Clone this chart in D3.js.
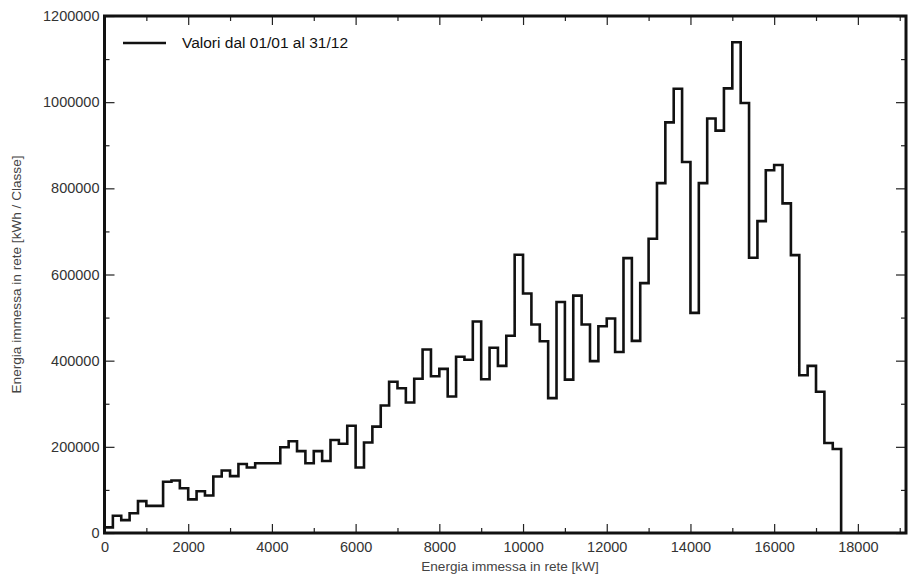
<!DOCTYPE html>
<html>
<head>
<meta charset="utf-8">
<script src="https://cdn.jsdelivr.net/npm/d3@7/dist/d3.min.js"></script>
<style>
  html, body { margin: 0; padding: 0; background: #fff; }
  svg { display: block; }
  text { font-family: "Liberation Sans", Arial, sans-serif; }
</style>
</head>
<body>
<svg id="chart" width="908" height="579"></svg>
<script>
// ---- data ----
const binWidth = 200; // kW per class
const binStartKW = d3.range(0, 17600, binWidth);
const energyValues = [
  13000, 40000, 30000, 46000, 74000, 63000, 63000, 119000, 122000, 104000,
  78000, 97000, 87000, 131000, 145000, 132000, 160000, 152000, 162000, 162000,
  162000, 199000, 213000, 190000, 162000, 190000, 167000, 216000, 207000, 249000,
  152000, 210000, 247000, 296000, 351000, 336000, 303000, 358000, 426000, 364000,
  381000, 317000, 409000, 402000, 491000, 357000, 430000, 388000, 458000, 646000,
  556000, 484000, 445000, 313000, 536000, 356000, 551000, 484000, 399000, 480000,
  498000, 420000, 638000, 446000, 580000, 683000, 812000, 953000, 1031000, 861000,
  511000, 812000, 962000, 934000, 1032000, 1139000, 998000, 639000, 724000, 842000,
  854000, 765000, 645000, 366000, 388000, 328000, 209000, 195000
];
const xTickValues = [0, 2000, 4000, 6000, 8000, 10000, 12000, 14000, 16000, 18000];
const yTickValues = [0, 200000, 400000, 600000, 800000, 1000000, 1200000];
const seriesLabel = "Valori dal 01/01 al 31/12";
const xTitle = "Energia immessa in rete [kW]";
const yTitle = "Energia immessa in rete [kWh / Classe]";

(function () {
// ---- layout ----
const svg = d3.select("#chart");
const L = 104.5, R = 906, T = 16, B = 533;
const x = d3.scaleLinear().domain([0, 19150]).range([L, R]);
const y = d3.scaleLinear().domain([0, 1200000]).range([B, T]);

const xMinor = d3.range(1000, 19001, 2000);
const yMinor = d3.range(100000, 1200000, 200000);

// ---- series (step line) ----
const pts = binStartKW.map((k, i) => [k, energyValues[i]]);
const lastEnd = binStartKW[binStartKW.length - 1] + binWidth;
pts.push([lastEnd, energyValues[energyValues.length - 1]]);
pts.push([lastEnd, 0]);
const line = d3.line().x(d => x(d[0])).y(d => y(d[1])).curve(d3.curveStepAfter);
svg.append("path")
  .datum(pts)
  .attr("d", line)
  .attr("fill", "none")
  .attr("stroke", "#111")
  .attr("stroke-width", 2.6)
  .attr("stroke-linejoin", "miter");

// ---- axes ----
const ax = svg.append("g");
const axBottom = d3.axisBottom(x).tickValues(xTickValues).tickSize(-9).tickPadding(9).tickFormat(d3.format("d"));
ax.append("g").attr("transform", `translate(0,${B})`).call(axBottom);
const axBottomMinor = d3.axisBottom(x).tickValues(xMinor).tickSize(-5).tickFormat("");
ax.append("g").attr("transform", `translate(0,${B})`).call(axBottomMinor);
const axTop = d3.axisTop(x).tickValues(xTickValues).tickSize(-9).tickFormat("");
ax.append("g").attr("transform", `translate(0,${T})`).call(axTop);
const axTopMinor = d3.axisTop(x).tickValues(xMinor).tickSize(-5).tickFormat("");
ax.append("g").attr("transform", `translate(0,${T})`).call(axTopMinor);
const axLeft = d3.axisLeft(y).tickValues(yTickValues).tickSize(-10).tickPadding(5).tickFormat(d3.format("d"));
ax.append("g").attr("transform", `translate(${L},0)`).call(axLeft);
const axLeftMinor = d3.axisLeft(y).tickValues(yMinor).tickSize(-5).tickFormat("");
ax.append("g").attr("transform", `translate(${L},0)`).call(axLeftMinor);
const axRight = d3.axisRight(y).tickValues(yTickValues).tickSize(-10).tickFormat("");
ax.append("g").attr("transform", `translate(${R},0)`).call(axRight);
const axRightMinor = d3.axisRight(y).tickValues(yMinor).tickSize(-5).tickFormat("");
ax.append("g").attr("transform", `translate(${R},0)`).call(axRightMinor);

ax.selectAll(".domain").remove();
ax.selectAll(".tick line").attr("stroke", "#222").attr("stroke-width", 1.2);
ax.selectAll(".tick text")
  .attr("fill", "#333")
  .style("font-size", "14.5px");

// frame
svg.append("rect")
  .attr("x", L).attr("y", T)
  .attr("width", R - L).attr("height", B - T)
  .attr("fill", "none")
  .attr("stroke", "#111")
  .attr("stroke-width", 3);

// ---- titles ----
svg.append("text")
  .attr("x", 510).attr("y", 571)
  .attr("text-anchor", "middle")
  .attr("fill", "#444")
  .style("font-size", "13.6px")
  .text(xTitle);
svg.append("text")
  .attr("transform", `translate(21,${(T + B) / 2}) rotate(-90)`)
  .attr("text-anchor", "middle")
  .attr("fill", "#444")
  .style("font-size", "13.6px")
  .text(yTitle);

// ---- legend ----
const lg = svg.append("g");
lg.append("line")
  .attr("x1", 123).attr("x2", 166).attr("y1", 43).attr("y2", 43)
  .attr("stroke", "#111").attr("stroke-width", 2.6);
lg.append("text")
  .attr("x", 182).attr("y", 48)
  .attr("fill", "#111")
  .style("font-size", "15.5px")
  .text(seriesLabel);
})();
</script>
</body>
</html>
